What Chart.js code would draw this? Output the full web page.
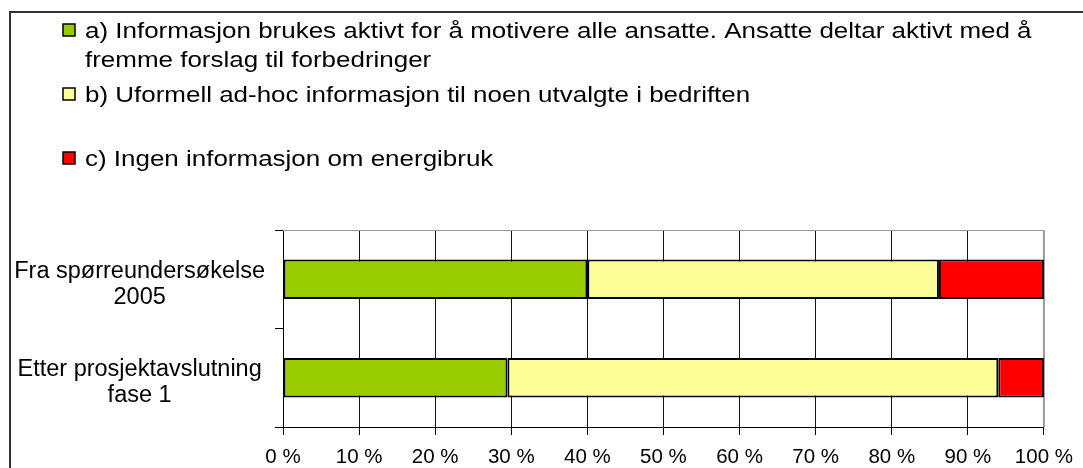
<!DOCTYPE html>
<html>
<head>
<meta charset="utf-8">
<script src="https://cdn.jsdelivr.net/npm/chart.js@4"></script>
<style>
  html, body { margin: 0; padding: 0; background: #fff; }
  #wrap { width: 1083px; height: 468px; position: relative; }
</style>
</head>
<body>
<div id="wrap"><canvas id="chart"></canvas></div>
<script>
// Categories (two lines each, as in the original)
const categories = [
  ["Fra spørreundersøkelse", "2005"],
  ["Etter prosjektavslutning", "fase 1"]
];

// Legend texts, one entry per series (already split in lines)
const seriesNames = [
  ["a) Informasjon brukes aktivt for å motivere alle ansatte. Ansatte deltar aktivt med å", "fremme forslag til forbedringer"],
  ["b) Uformell ad-hoc informasjon til noen utvalgte i bedriften"],
  ["c) Ingen informasjon om energibruk"]
];

// Percent shares
const seriesA = [40.0, 29.5];
const seriesB = [46.2, 64.5];
const seriesC = [13.8, 6.0];

const seriesColors = ["#99CC00", "#FFFF99", "#FF0000"];

const FONT = "'Liberation Sans', Arial, sans-serif";

// Frame + plot border + legend, drawn on top of the chart
const decorations = {
  id: "decorations",
  afterDraw(chart) {
    const ctx = chart.ctx;
    const a = chart.chartArea;
    ctx.save();

    // outer frame (only left and top edges are visible)
    ctx.strokeStyle = "#333";
    ctx.lineWidth = 2;
    ctx.beginPath();
    ctx.moveTo(10, 468);
    ctx.lineTo(10, 12);
    ctx.lineTo(1083, 12);
    ctx.stroke();

    // plot area top and right border in grey
    ctx.strokeStyle = "#999";
    ctx.lineWidth = 1;
    ctx.beginPath();
    ctx.moveTo(a.left, a.top + 0.5);
    ctx.lineTo(a.right + 0.5, a.top + 0.5);
    ctx.lineTo(a.right + 0.5, a.bottom);
    ctx.stroke();

    // legend (original text is a bit wider than Arial, so stretch a little)
    const baselines = [[38, 67], [102], [166]];
    ctx.font = "22px " + FONT;
    ctx.textBaseline = "alphabetic";
    chart.data.datasets.forEach((ds, i) => {
      const b = baselines[i];
      ctx.fillStyle = ds.backgroundColor;
      ctx.fillRect(63, b[0] - 14, 12, 12);
      ctx.strokeStyle = "#000";
      ctx.lineWidth = 1.5;
      ctx.strokeRect(63, b[0] - 14, 12, 12);
      ctx.fillStyle = "#000";
      seriesNames[i].forEach((line, j) => {
        ctx.save();
        ctx.translate(85, b[j]);
        ctx.scale(1.18, 1);
        ctx.fillText(line, 0, 0);
        ctx.restore();
      });
    });

    ctx.restore();
  }
};

const makeSet = (i, data) => ({
  label: seriesNames[i].join(" "),
  data: data,
  backgroundColor: seriesColors[i],
  borderColor: "#000",
  borderWidth: 2,
  borderSkipped: false,
  barPercentage: 0.4,
  categoryPercentage: 1.0
});

new Chart(document.getElementById("chart"), {
  type: "bar",
  data: {
    labels: categories,
    datasets: [makeSet(0, seriesA), makeSet(1, seriesB), makeSet(2, seriesC)]
  },
  options: {
    indexAxis: "y",
    responsive: true,
    maintainAspectRatio: false,
    animation: false,
    layout: { padding: { left: 0, right: 38, top: 230, bottom: 0 } },
    plugins: {
      legend: { display: false },
      tooltip: { enabled: false }
    },
    scales: {
      x: {
        stacked: true,
        min: 0,
        max: 100,
        ticks: {
          stepSize: 10,
          color: "#000",
          padding: 10,
          font: { family: FONT, size: 20.5 },
          callback: v => v + " %"
        },
        grid: {
          color: ctx => (ctx.index === 10 ? "#999" : "#111"),
          lineWidth: 1,
          drawTicks: true,
          tickLength: 8,
          tickColor: "#000"
        },
        border: { color: "#000", width: 1 },
        afterFit: s => { s.height = 41; }
      },
      y: {
        stacked: true,
        ticks: {
          color: "#000",
          crossAlign: "center",
          padding: 10,
          labelOffset: 5,
          font: { family: FONT, size: 23.5, lineHeight: 1.1 }
        },
        grid: {
          drawOnChartArea: false,
          drawTicks: true,
          tickLength: 8,
          tickColor: "#000"
        },
        border: { color: "#000", width: 1 },
        afterFit: s => { s.width = 283; }
      }
    }
  },
  plugins: [decorations]
});
</script>
</body>
</html>
